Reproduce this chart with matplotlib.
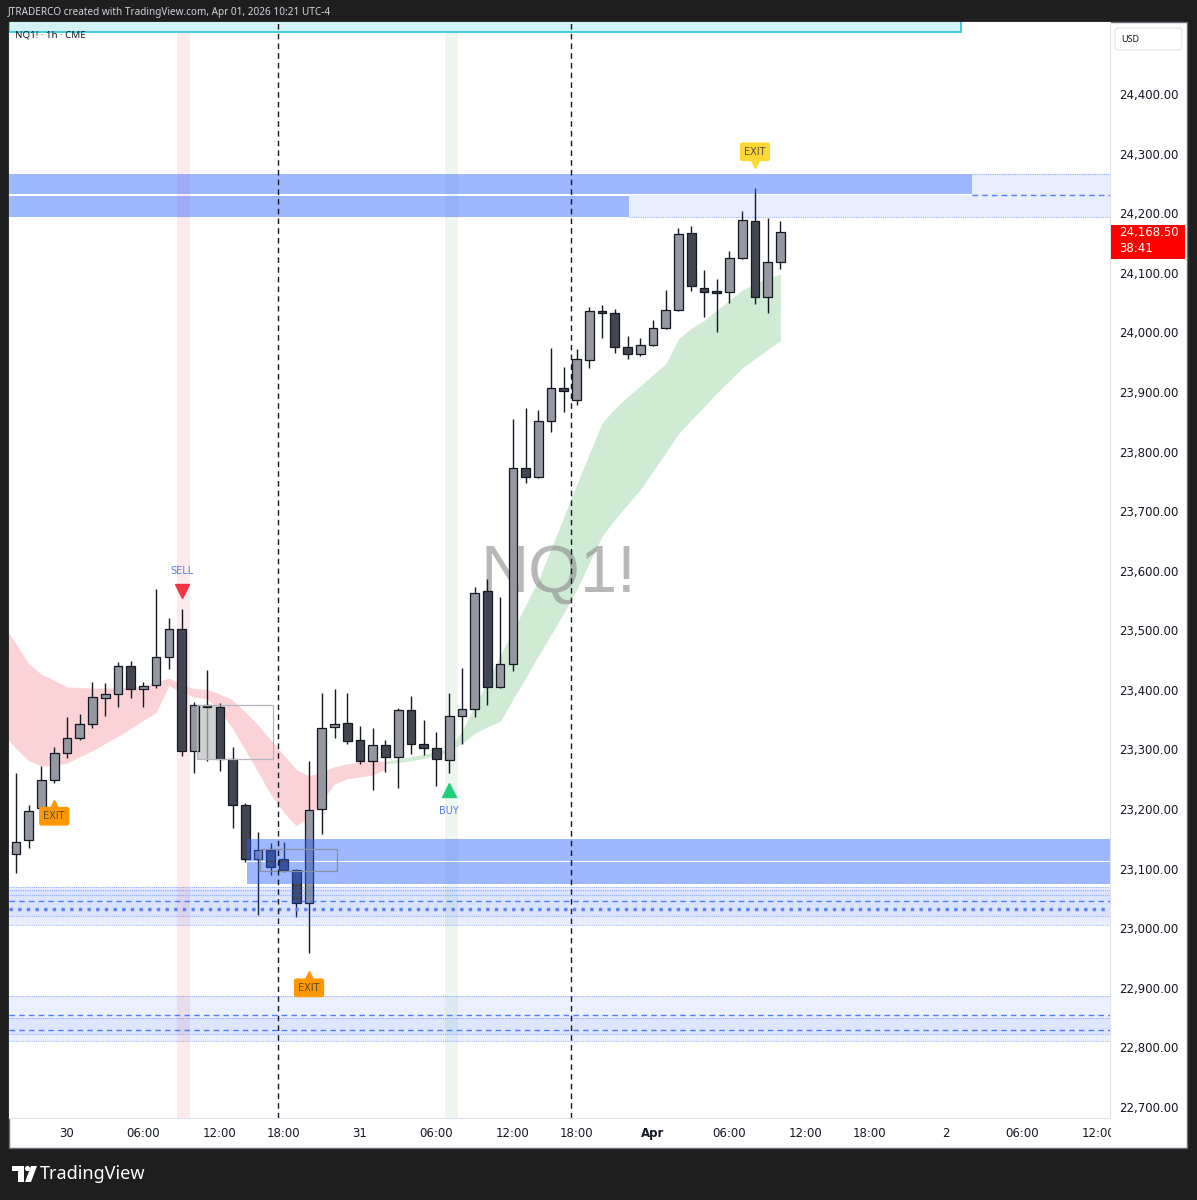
import matplotlib
matplotlib.use('Agg')
import matplotlib.pyplot as plt
from matplotlib.patches import Rectangle, Polygon, Circle, FancyBboxPatch
from matplotlib.transforms import blended_transform_factory
import numpy as np

# ---- data (NQ1! 1h, bar 0 = Mar 29 20:00) ----
opens = [23124, 23148, 23201, 23249, 23294, 23319, 23342, 23387, 23393, 23440,
         23401, 23408, 23456, 23502, 23298, 23375, 23372, 23284, 23207, 23116,
         23132, 23116, 23098, 23043, 23200, 23337, 23344, 23316, 23280, 23307,
         23288, 23366, 23309, 23303, 23282, 23356, 23368, 23566, 23405, 23443,
         23772, 23757, 23852, 23906, 23886, 23954, 24035, 24033, 23975, 23964,
         23978, 24008, 24038, 24166, 24075, 24069, 24067, 24124, 24187, 24060,
         24118]
highs = [23260, 23207, 23272, 23304, 23354, 23360, 23414, 23411, 23447, 23449,
         23414, 23570, 23520, 23535, 23379, 23433, 23378, 23304, 23210, 23162,
         23143, 23144, 23100, 23281, 23395, 23401, 23395, 23339, 23336, 23316,
         23369, 23389, 23350, 23330, 23395, 23436, 23572, 23586, 23556, 23854,
         23873, 23870, 23973, 23942, 23972, 24043, 24046, 24040, 23994, 23991,
         24020, 24071, 24175, 24178, 24105, 24089, 24137, 24204, 24243, 24192,
         24187]
lows = [23093, 23134, 23195, 23244, 23285, 23316, 23336, 23357, 23372, 23387,
        23372, 23404, 23435, 23289, 23260, 23280, 23264, 23168, 23112, 23022,
        23089, 23095, 23019, 22959, 23158, 23320, 23309, 23275, 23232, 23263,
        23235, 23292, 23291, 23238, 23261, 23310, 23355, 23375, 23403, 23432,
        23747, 23755, 23832, 23867, 23878, 23941, 23991, 23965, 23955, 23961,
        23977, 24006, 24036, 24070, 24025, 24001, 24049, 24123, 24048, 24033,
        24106]
closes = [23145, 23197, 23249, 23294, 23319, 23342, 23388, 23393, 23440, 23401,
          23407, 23455, 23503, 23298, 23375, 23372, 23284, 23207, 23117, 23131,
          23103, 23097, 23043, 23198, 23336, 23342, 23315, 23280, 23307, 23288,
          23366, 23310, 23303, 23284, 23356, 23368, 23562, 23405, 23443, 23772,
          23758, 23852, 23906, 23902, 23955, 24035, 24033, 23975, 23964, 23978,
          24008, 24038, 24165, 24077, 24068, 24066, 24124, 24189, 24060, 24118,
          24168.5]

# red (bearish) cloud, bars -1..29
pink_x = list(range(-1, 30))
pink_hi = [23510, 23477, 23444, 23426, 23416, 23405, 23404, 23403, 23403, 23404,
           23404, 23407, 23413, 23420, 23409, 23402, 23401, 23393, 23383, 23363,
           23341, 23316, 23291, 23266, 23256, 23263, 23271, 23276, 23279, 23282,
           23280]
pink_lo = [23325, 23302, 23281, 23272, 23274, 23277, 23288, 23298, 23310, 23322,
           23335, 23349, 23362, 23407, 23397, 23388, 23385, 23365, 23335, 23299,
           23262, 23224, 23195, 23172, 23187, 23214, 23242, 23251, 23254, 23257,
           23267]
# green (bullish) cloud, bars 29..60
green_x = list(range(29, 61))
green_hi = [23280, 23284, 23288, 23292, 23296, 23301, 23331, 23373, 23415, 23457,
            23500, 23542, 23584, 23637, 23690, 23744, 23796, 23848, 23872, 23892,
            23910, 23929, 23947, 23989, 24007, 24020, 24037, 24054, 24071, 24082,
            24090, 24098]
green_lo = [23276, 23278, 23281, 23285, 23290, 23296, 23310, 23327, 23338, 23347,
            23384, 23420, 23457, 23493, 23529, 23568, 23613, 23658, 23686, 23711,
            23736, 23767, 23798, 23830, 23853, 23875, 23898, 23919, 23940, 23956,
            23971, 23986]

price_ticks = list(range(22700, 24500, 100))
time_ticks = [4, 10, 16, 21, 27, 33, 39, 44, 50, 56, 62, 67, 73, 79, 85]
time_labels = ['30', '06:00', '12:00', '18:00', '31', '06:00', '12:00', '18:00',
               'Apr', '06:00', '12:00', '18:00', '2', '06:00', '12:00']
session_breaks = [20.55, 43.6]

sell_idx, sell_price = 13, 23566
buy_idx, buy_price = 34, 23232
exits = [(3, 23188, '#ff9800', 'up'), (23, 22900, '#ff9800', 'up'),
         (58, 24303, '#fdd835', 'down')]
last_price = 24168.5
countdown = '38:41'

W, H = 1197, 1200
XMIN, XMAX = -0.55, 85.87
YMIN, YMAX = 22681.6, 24520.8


def fx(x):
    return x / W


def fy(y):
    return 1 - y / H


fig = plt.figure(figsize=(W / 100, H / 100), dpi=100, facecolor='#1e1e1e')

# white chart panel
fig.add_artist(Rectangle((fx(9), fy(1148)), fx(1187) - fx(9), fy(22) - fy(1148),
                         transform=fig.transFigure, fc='white', ec='#6a6d78',
                         lw=1, zorder=-5))

ax = fig.add_axes([fx(9), fy(1118), fx(1110) - fx(9), fy(22) - fy(1118)])
ax.set_xlim(XMIN, XMAX)
ax.set_ylim(YMIN, YMAX)
ax.set_facecolor('white')

# signal stripes
ax.axvspan(12.64, 13.66, color='#fdeaec', lw=0, zorder=0)
ax.axvspan(33.67, 34.69, color='#eef7ef', lw=0, zorder=0)

# clouds
ax.fill_between(pink_x, pink_lo, pink_hi, color='#fbd3d6', lw=0, zorder=1)
ax.fill_between(green_x, green_lo, green_hi, color='#d0ebd4', lw=0, zorder=1)

# watermark
ax.text(42.58, 23594, 'NQ1!', fontsize=48, color='#8a8a8a', alpha=0.6,
        ha='center', va='center', family='Liberation Sans', zorder=1.5)

# candles
idx = np.arange(len(opens))
o = np.array(opens, dtype=float)
c = np.array(closes, dtype=float)
bottoms = np.minimum(o, c)
heights = np.maximum(np.abs(c - o), 2.5)
colors = ['#9598a1' if cc >= oo else '#434651' for oo, cc in zip(o, c)]
ax.vlines(idx, lows, highs, color='#131722', lw=1, zorder=3)
ax.bar(idx, heights, bottom=bottoms, width=0.68, color=colors,
       edgecolor='#131722', linewidth=0.9, zorder=4)

# grey boxes
ax.add_patch(Rectangle((14.18, 23284), 1.6, 91, fc='#bdbdbd', alpha=0.7,
                       ec='none', zorder=3.5))
ax.add_patch(Rectangle((14.18, 23284), 5.97, 91, fill=False, ec='#b2b5be',
                       lw=0.9, zorder=4.5))
ax.add_patch(Rectangle((19.15, 23096), 6.05, 37, fill=False, ec='#8a8fa0',
                       lw=0.9, zorder=5.5))

BLUE = '#2962ff'
RIGHT = 95


def zone(x0, x1, lo, hi, alpha):
    ax.add_patch(Rectangle((x0, lo), x1 - x0, hi - lo, fc=BLUE, alpha=alpha,
                           ec='none', zorder=5))


# supply zones on top
zone(XMIN, 75.04, 24231.5, 24265, 0.45)
zone(75.04, RIGHT, 24230.5, 24265, 0.1)
zone(XMIN, 48.1, 24194, 24229.5, 0.45)
zone(48.1, RIGHT, 24194, 24230.5, 0.1)
ax.hlines(24265, 75.04, RIGHT, colors=BLUE, lw=0.8, alpha=0.5,
          linestyles=(0, (1, 1)), zorder=5)
ax.hlines(24230.5, 75.04, RIGHT, colors=BLUE, lw=1, alpha=0.8,
          linestyles=(0, (4, 3)), zorder=5)
ax.hlines(24194, 48.1, RIGHT, colors=BLUE, lw=0.8, alpha=0.5,
          linestyles=(0, (1, 1)), zorder=5)

# demand zone
zone(18.1, RIGHT, 23113, 23150, 0.45)
zone(18.1, RIGHT, 23075, 23111, 0.45)

# light bands below
zone(XMIN, RIGHT, 23005, 23070, 0.1)
zone(XMIN, RIGHT, 23021, 23064, 0.07)
for lvl in [23070, 23064, 23056, 23021, 23005]:
    ax.hlines(lvl, XMIN, RIGHT, colors=BLUE, lw=0.8, alpha=0.45,
              linestyles=(0, (1, 1)), zorder=5)
ax.hlines(23046, XMIN, RIGHT, colors=BLUE, lw=1, alpha=0.8,
          linestyles=(0, (4, 3)), zorder=5)
ax.hlines(23032, XMIN, RIGHT, colors='#5b84f8', lw=2.4,
          linestyles=(0, (1, 1.6)), zorder=5)

zone(XMIN, RIGHT, 22811, 22887, 0.09)
zone(XMIN, RIGHT, 22823, 22849, 0.07)
for lvl in [22887, 22849, 22823, 22811]:
    ax.hlines(lvl, XMIN, RIGHT, colors=BLUE, lw=0.8, alpha=0.45,
              linestyles=(0, (1, 1)), zorder=5)
for lvl in [22854, 22829]:
    ax.hlines(lvl, XMIN, RIGHT, colors=BLUE, lw=1, alpha=0.8,
              linestyles=(0, (4, 3)), zorder=5)

# session breaks
for sb in session_breaks:
    ax.axvline(sb, color='#131722', lw=1, ls=(0, (4, 3)), zorder=6)

# top cyan box
ax.add_patch(Rectangle((XMIN, 24504), 74.2 - XMIN, 60, fc='#d2f4f7',
                       ec='#26c6da', lw=1.2, zorder=5))
ax.text(0.0054, 0.988, 'NQ1! \u00b7 1h \u00b7 CME', transform=ax.transAxes,
        fontsize=7, color='#131722', va='center', ha='left',
        family='Noto Sans', zorder=9)

# signals
ax.plot(sell_idx, sell_price, marker='v', ms=10, color='#f23645', zorder=7)
ax.text(sell_idx, sell_price + 34, 'SELL', fontsize=7, color='#4f7cf2',
        ha='center', va='center', zorder=7)
ax.plot(buy_idx, buy_price, marker='^', ms=10, color='#22ce7a', zorder=7)
ax.text(buy_idx, buy_price - 35, 'BUY', fontsize=7, color='#4f7cf2',
        ha='center', va='center', zorder=7)

for ei, ep, ecol, edir in exits:
    ax.text(ei, ep, 'EXIT', fontsize=7, color='#574a33', ha='center',
            va='center', zorder=8,
            bbox=dict(boxstyle='round,pad=0.45,rounding_size=0.25', fc=ecol,
                      ec='none'))
    if edir == 'up':
        ax.plot(ei, ep + 21, marker='^', ms=6, color=ecol, zorder=7.9)
    else:
        ax.plot(ei, ep - 21, marker='v', ms=6, color=ecol, zorder=7.9)

# axes styling
for s in ['top', 'left']:
    ax.spines[s].set_visible(False)
for s in ['right', 'bottom']:
    ax.spines[s].set_color('#e0e3eb')
    ax.spines[s].set_linewidth(0.8)

ax.yaxis.tick_right()
ax.set_yticks(price_ticks)
ax.set_yticklabels([f'{p:,.2f}' for p in price_ticks])
ax.tick_params(axis='y', length=0, pad=6.5, labelsize=8.5,
               labelcolor='#131722')
ax.set_xticks(time_ticks)
ax.set_xticklabels(time_labels)
ax.tick_params(axis='x', length=0, pad=6.5, labelsize=8.5,
               labelcolor='#131722')
for lab in ax.get_xticklabels():
    if lab.get_text() == 'Apr':
        lab.set_fontweight('bold')

# last price tag
trans = blended_transform_factory(ax.transAxes, ax.transData)
ax.add_patch(Rectangle((1.0009, 24123), 0.0672, 57, transform=trans,
                       fc='#ff0000', ec='none', clip_on=False, zorder=10))
ax.text(1.0082, 24167, f'{last_price:,.2f}', transform=trans, color='white',
        fontsize=8.5, ha='left', va='center', clip_on=False, zorder=11)
ax.text(1.0082, 24140, countdown, transform=trans, color='white',
        fontsize=8.5, ha='left', va='center', clip_on=False, zorder=11)

# cover clipped tail of the last time label
fig.add_artist(Rectangle((fx(1111), fy(1147)), fx(1186) - fx(1111),
                         fy(1119) - fy(1147), transform=fig.transFigure,
                         fc='white', ec='none', zorder=5))

# USD box
fig.add_artist(FancyBboxPatch((fx(1115), fy(50)), fx(1182) - fx(1115),
                              fy(28) - fy(50), transform=fig.transFigure,
                              boxstyle='round,pad=0,rounding_size=0.003',
                              fc='white', ec='#e0e3eb', lw=0.8, zorder=5))
fig.text(fx(1121), fy(39), 'USD', fontsize=6.5, color='#131722',
         va='center', ha='left', family='Noto Sans', zorder=6)

# header & footer
fig.text(fx(8), fy(12), 'JTRADERCO created with TradingView.com, Apr 01, 2026 10:21 UTC-4',
         fontsize=7.2, color='#d1d4dc', va='center', ha='left', family='Noto Sans')

fig.add_artist(Polygon([(fx(12), fy(1166)), (fx(24), fy(1166)), (fx(24), fy(1182)),
                        (fx(18), fy(1182)), (fx(18), fy(1171)), (fx(12), fy(1171))],
                       closed=True, transform=fig.transFigure, fc='white', ec='none'))
fig.add_artist(Circle((fx(27.5), fy(1168.5)), 2.6 / W, transform=fig.transFigure,
                      fc='white', ec='none'))
fig.add_artist(Polygon([(fx(31), fy(1166)), (fx(37), fy(1166)), (fx(31), fy(1182)),
                        (fx(25), fy(1182))],
                       closed=True, transform=fig.transFigure, fc='white', ec='none'))
fig.text(fx(40), fy(1174), 'TradingView', fontsize=13, color='white',
         va='center', ha='left', family='Noto Sans', fontweight='semibold')

fig.savefig('out.png', dpi=100, facecolor=fig.get_facecolor())
